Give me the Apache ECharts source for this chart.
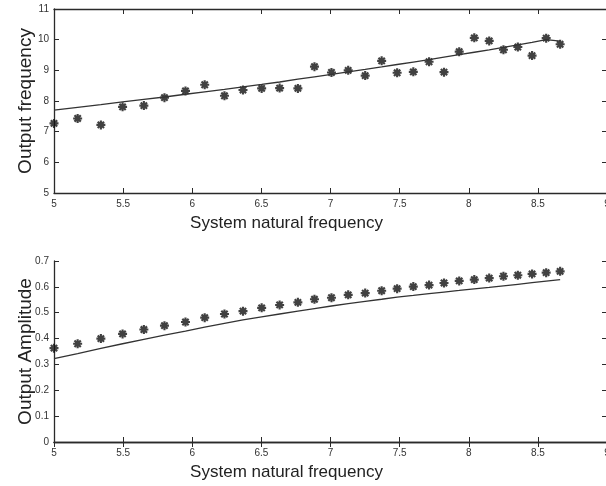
<!DOCTYPE html>
<html>
<head>
<meta charset="utf-8">
<script src="https://cdn.jsdelivr.net/npm/echarts@6/dist/echarts.min.js"></script>
<style>
  html, body { margin: 0; padding: 0; background: #ffffff; }
  #chart { width: 606px; height: 486px; }
</style>
</head>
<body>
<div id="chart"></div>
<script>
// System natural frequency for each run
const natFreq = [
  5.000, 5.171, 5.339, 5.496, 5.650, 5.799, 5.951, 6.090, 6.233, 6.367,
  6.502, 6.632, 6.764, 6.884, 7.007, 7.128, 7.251, 7.370, 7.482, 7.599,
  7.713, 7.821, 7.931, 8.040, 8.148, 8.251, 8.355, 8.458, 8.560, 8.661
];

// Measured output frequency (asterisks)
const freqMeasured = [
  7.27, 7.43, 7.22, 7.81, 7.85, 8.11, 8.33, 8.53, 8.17, 8.36,
  8.41, 8.42, 8.41, 9.12, 8.93, 9.00, 8.83, 9.31, 8.92, 8.95,
  9.28, 8.94, 9.61, 10.06, 9.96, 9.67, 9.76, 9.48, 10.05, 9.85
];

// Predicted output frequency (solid line)
const freqModel = [
  7.70, 7.79, 7.88, 7.97, 8.05, 8.13, 8.22, 8.30, 8.38, 8.46,
  8.54, 8.62, 8.71, 8.79, 8.87, 8.95, 9.03, 9.11, 9.19, 9.27,
  9.35, 9.43, 9.51, 9.59, 9.67, 9.75, 9.83, 9.91, 10.00, 9.95
];

// Measured output amplitude (asterisks)
const ampMeasured = [
  0.363, 0.380, 0.400, 0.418, 0.435, 0.450, 0.464, 0.481, 0.495, 0.506,
  0.519, 0.530, 0.540, 0.552, 0.558, 0.569, 0.576, 0.585, 0.593, 0.601,
  0.607, 0.615, 0.623, 0.628, 0.634, 0.641, 0.645, 0.650, 0.655, 0.660
];

// Predicted output amplitude (solid line)
const ampModel = [
  0.322, 0.342, 0.362, 0.380, 0.397, 0.413, 0.429, 0.444, 0.459, 0.472,
  0.484, 0.495, 0.506, 0.516, 0.526, 0.535, 0.544, 0.552, 0.560, 0.567,
  0.574, 0.580, 0.586, 0.592, 0.598, 0.604, 0.610, 0.616, 0.622, 0.628
];

const xTitle = 'System natural frequency';
const yTitles = ['Output frequency', 'Output Amplitude'];

const pair = (xs, ys) => xs.map((x, i) => [x, ys[i]]);

// Asterisk marker: horizontal, vertical and two diagonal bars
const asterisk = 'path://M0 38L100 38L100 62L0 62Z' +
  'M38 0L62 0L62 100L38 100Z' +
  'M6.5 23.5L23.5 6.5L93.5 76.5L76.5 93.5Z' +
  'M76.5 6.5L93.5 23.5L23.5 93.5L6.5 76.5Z';

const axisColor = '#2a2a2a';
const fontFamily = 'Liberation Sans, Arial, sans-serif';
const labelStyle = { color: '#333', fontSize: 10, fontFamily };
const nameStyle = { color: '#222', fontSize: 17, fontFamily };
const yNameStyle = { color: '#222', fontSize: 19, fontFamily };
const lineStyle = { color: axisColor, width: 1.3 };
const tickStyle = { inside: true, length: 5, lineStyle: { color: axisColor, width: 1 } };

function xAxes(gridIndex) {
  return [
    {
      type: 'value', gridIndex, min: 5, max: 9, interval: 0.5, position: 'bottom',
      axisLine: { show: true, lineStyle }, axisTick: tickStyle,
      axisLabel: Object.assign({ margin: 6 }, labelStyle),
      splitLine: { show: false },
      name: xTitle, nameLocation: 'middle', nameGap: 22,
      nameTextStyle: Object.assign({ padding: [0, 88, 0, 0] }, nameStyle)
    },
    {
      type: 'value', gridIndex, min: 5, max: 9, interval: 0.5, position: 'top',
      axisLine: { show: true, lineStyle }, axisTick: tickStyle,
      axisLabel: { show: false }, splitLine: { show: false }
    }
  ];
}

function yAxes(gridIndex, min, max, interval, title) {
  return [
    {
      type: 'value', gridIndex, min, max, interval, position: 'left',
      axisLine: { show: true, lineStyle }, axisTick: tickStyle,
      axisLabel: Object.assign({ margin: 5 }, labelStyle),
      splitLine: { show: false },
      name: title, nameLocation: 'middle', nameGap: 19, nameMoveOverlap: false,
      nameTextStyle: yNameStyle
    },
    {
      type: 'value', gridIndex, min, max, interval, position: 'right',
      axisLine: { show: true, lineStyle }, axisTick: tickStyle,
      axisLabel: { show: false }, splitLine: { show: false }
    }
  ];
}

const chart = echarts.init(document.getElementById('chart'), null, { renderer: 'canvas' });

chart.setOption({
  backgroundColor: '#ffffff',
  animation: false,
  grid: [
    { left: 54, top: 9, width: 553, height: 184, outerBoundsMode: 'none', containLabel: false },
    { left: 54, top: 261, width: 553, height: 181, outerBoundsMode: 'none', containLabel: false }
  ],
  xAxis: [...xAxes(0), ...xAxes(1)],
  yAxis: [...yAxes(0, 5, 11, 1, yTitles[0]), ...yAxes(1, 0, 0.7, 0.1, yTitles[1])],
  series: [
    {
      type: 'line', xAxisIndex: 0, yAxisIndex: 0,
      data: pair(natFreq, freqModel), showSymbol: false,
      lineStyle: { color: '#333', width: 1.3 }
    },
    {
      type: 'scatter', xAxisIndex: 0, yAxisIndex: 0,
      data: pair(natFreq, freqMeasured), symbol: asterisk, symbolSize: 9,
      itemStyle: { color: '#111' }
    },
    {
      type: 'line', xAxisIndex: 2, yAxisIndex: 2,
      data: pair(natFreq, ampModel), showSymbol: false,
      lineStyle: { color: '#333', width: 1.3 }
    },
    {
      type: 'scatter', xAxisIndex: 2, yAxisIndex: 2,
      data: pair(natFreq, ampMeasured), symbol: asterisk, symbolSize: 9,
      itemStyle: { color: '#111' }
    }
  ]
});
</script>
</body>
</html>
